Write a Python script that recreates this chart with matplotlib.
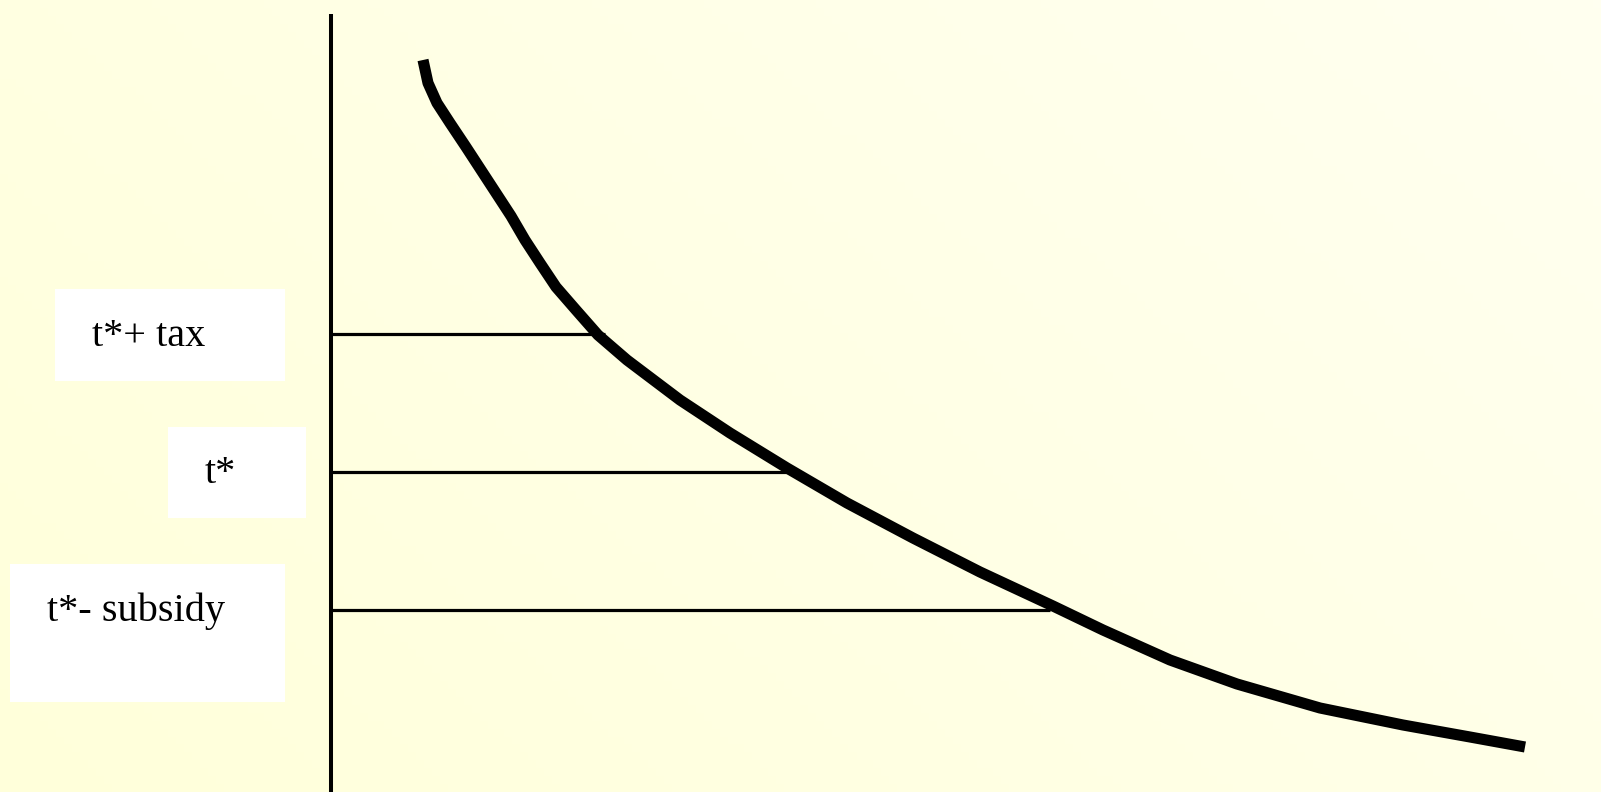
import numpy as np
import matplotlib.pyplot as plt
from matplotlib.patches import Rectangle

# demand curve (quantity from the price axis, price from the bottom)
quantity = [92, 97, 106, 119, 135, 150, 165, 180, 194, 209, 225, 245, 267, 296,
            349, 399, 456, 516, 582, 649, 722, 772, 839, 906, 989, 1072, 1139, 1194]
price = [732, 709, 689, 669, 645, 622, 599, 576, 552, 529, 505, 482, 457, 432,
         392, 359, 324, 289, 254, 220, 186, 162, 132, 108, 84, 67, 55, 45]

# price levels and where each one meets the curve
level_names = ["t*+ tax", "t*", "t*- subsidy"]
level_prices = [458, 320, 182]
level_quantities = [274, 459, 719]

# label boxes: (left, bottom, width, height) and text anchor (x, baseline)
boxes = [(-276, 411, 230, 92), (-163, 274, 138, 91), (-321, 90, 275, 138)]
text_pos = [(-239, 446), (-126, 309), (-284, 171)]

fig = plt.figure(figsize=(16.01, 7.92), dpi=100)
ax = fig.add_axes([0, 0, 1, 1])
x0, x1, y0, y1 = -331, 1270, 0, 792
ax.set_xlim(x0, x1)
ax.set_ylim(y0, y1)
ax.axis("off")

# pale yellow diagonal gradient
gx, gy = np.meshgrid(np.linspace(0, 1, 200), np.linspace(0, 1, 100))
t = np.clip(0.65 * gx + 0.35 * gy, 0, 1)
c0 = np.array([255, 255, 218]) / 255.0
c1 = np.array([255, 255, 240]) / 255.0
img = c0[None, None, :] * (1 - t[..., None]) + c1[None, None, :] * t[..., None]
ax.imshow(img, extent=[x0, x1, y0, y1], origin="lower", aspect="auto", zorder=0)

# price axis
ax.plot([0, 0], [0, 778], color="black", lw=2.9, solid_capstyle="butt", zorder=2)

# horizontal price lines
for p, q in zip(level_prices, level_quantities):
    ax.plot([0, q], [p, p], color="black", lw=2.3, solid_capstyle="butt", zorder=2)

# demand curve
ax.plot(quantity, price, color="black", lw=8.0, solid_capstyle="butt",
        solid_joinstyle="round", zorder=3)

# labels
for (bx, by, bw, bh), (tx, ty), name in zip(boxes, text_pos, level_names):
    ax.add_patch(Rectangle((bx, by), bw, bh, facecolor="white", edgecolor="none", zorder=2))
    ax.text(tx, ty, name, fontsize=29, family="Liberation Serif", va="baseline",
            ha="left", zorder=4)

fig.savefig("out.png", dpi=100)
